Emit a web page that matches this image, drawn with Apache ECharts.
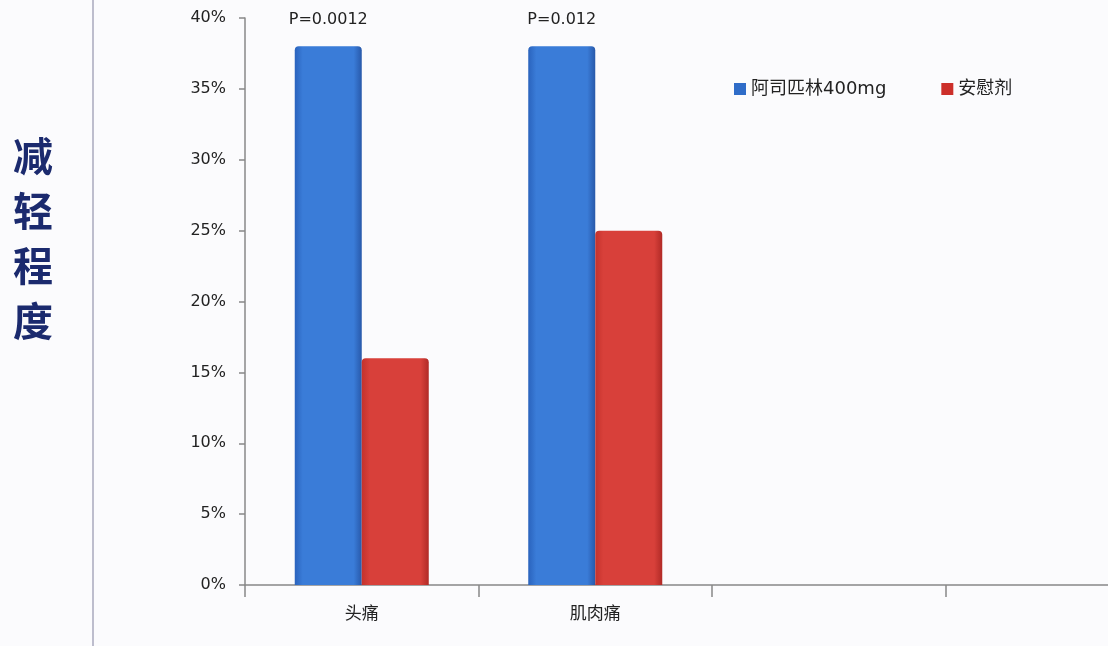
<!DOCTYPE html>
<html>
<head>
<meta charset="utf-8">
<script src="https://cdn.jsdelivr.net/npm/echarts@6/dist/echarts.min.js"></script>
<style>
  html, body { margin: 0; padding: 0; background: #fbfbfd; }
  #chart { width: 1108px; height: 646px; }
</style>
</head>
<body>
<div id="chart"></div>
<script>
var categories = ['头痛', '肌肉痛', '', ''];
var aspirin = [38, 38, null, null];
var placebo = [16, 25, null, null];
var pLabels = ['P=0.0012', 'P=0.012', '', ''];
var yTicks = [0, 5, 10, 15, 20, 25, 30, 35, 40];

var chart = echarts.init(document.getElementById('chart'));
var font = '"DejaVu Sans", "Noto Sans CJK SC", sans-serif';

var blueFill = new echarts.graphic.LinearGradient(0, 0, 1, 0, [
  { offset: 0, color: '#2a63bd' },
  { offset: 0.12, color: '#3a7cd8' },
  { offset: 0.88, color: '#3a7cd8' },
  { offset: 1, color: '#2859aa' }
]);
var redFill = new echarts.graphic.LinearGradient(0, 0, 1, 0, [
  { offset: 0, color: '#c4322c' },
  { offset: 0.12, color: '#d8403a' },
  { offset: 0.88, color: '#d8403a' },
  { offset: 1, color: '#b02a26' }
]);

chart.setOption({
  backgroundColor: '#fbfbfd',
  animation: false,
  textStyle: { fontFamily: font },
  graphic: [
    {
      type: 'line',
      shape: { x1: 93, y1: 0, x2: 93, y2: 646 },
      style: { stroke: '#a9a9bd', lineWidth: 1.5 }
    },
    {
      type: 'text',
      left: 13,
      top: 128,
      style: {
        text: '减\n轻\n程\n度',
        font: 'bold 40px "Noto Sans CJK SC", sans-serif',
        lineHeight: 55,
        fill: '#1b2a6e'
      }
    }
  ],
  legend: {
    left: 729,
    top: 75,
    itemWidth: 12,
    itemHeight: 12,
    itemGap: 55,
    icon: 'rect',
    textStyle: { fontSize: 18, color: '#222', fontFamily: font },
    data: [
      { name: '阿司匹林400mg', itemStyle: { color: '#2f6cc8' } },
      { name: '安慰剂', itemStyle: { color: '#cc2f2a' } }
    ]
  },
  grid: {
    left: 245,
    top: 18,
    bottom: 61,
    right: -71,
    containLabel: false,
    outerBoundsMode: 'none'
  },
  xAxis: {
    type: 'category',
    data: categories,
    axisLine: { show: true, lineStyle: { color: '#888', width: 1.5 } },
    axisTick: { show: true, interval: 0, alignWithLabel: false, length: 12, lineStyle: { color: '#888', width: 1.5 } },
    axisLabel: { interval: 0, margin: 21, fontSize: 17, color: '#222' }
  },
  yAxis: {
    type: 'value',
    min: yTicks[0],
    max: yTicks[yTicks.length - 1],
    interval: 5,
    axisLine: { show: true, lineStyle: { color: '#888', width: 1.5 } },
    axisTick: { show: true, length: 6, lineStyle: { color: '#888', width: 1.5 } },
    splitLine: { show: false },
    axisLabel: { margin: 19, fontSize: 16, color: '#222', formatter: '{value}%' }
  },
  series: [
    {
      name: '阿司匹林400mg',
      type: 'bar',
      data: aspirin,
      barWidth: 67,
      barGap: '0%',
      itemStyle: { color: blueFill, borderRadius: [4, 4, 0, 0] },
      label: {
        show: true,
        position: 'top',
        distance: 19,
        fontSize: 16,
        color: '#222',
        formatter: function (p) { return pLabels[p.dataIndex]; }
      }
    },
    {
      name: '安慰剂',
      type: 'bar',
      data: placebo,
      barWidth: 67,
      barGap: '0%',
      itemStyle: { color: redFill, borderRadius: [4, 4, 0, 0] }
    }
  ]
});
</script>
</body>
</html>
